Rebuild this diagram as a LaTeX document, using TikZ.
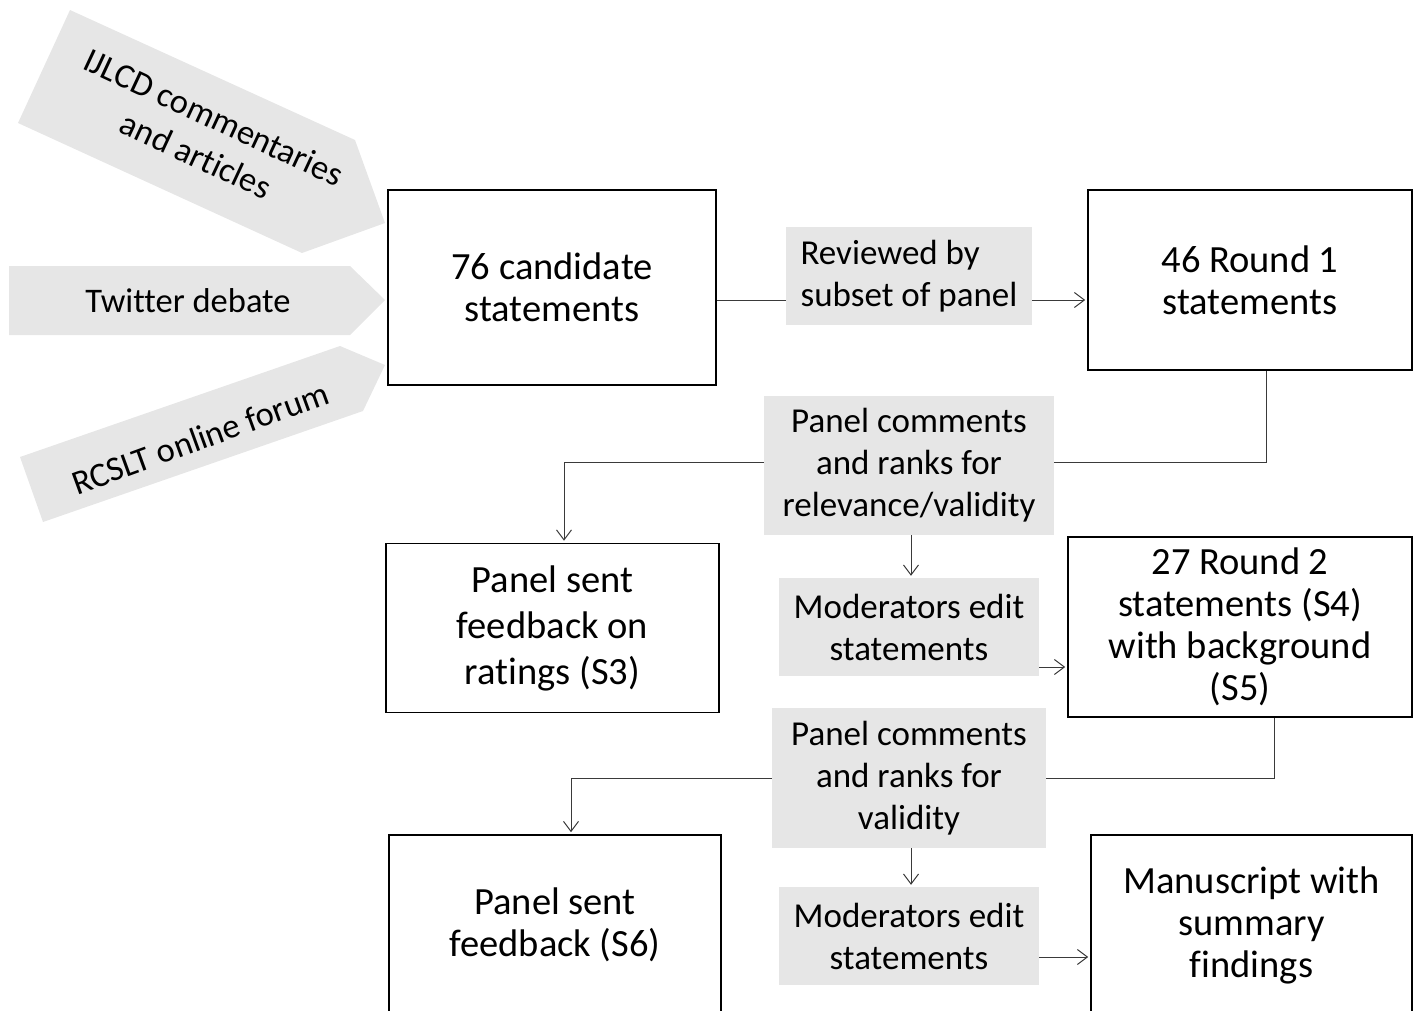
\documentclass[tikz,border=0pt]{standalone}
\usepackage{fontspec}
\setmainfont[RawFeature={-liga}]{Carlito}
\usetikzlibrary{arrows.meta,calc}
\definecolor{gfill}{HTML}{E6E6E6}
\definecolor{lcol}{HTML}{3A3A3A}
\tikzset{
  txt/.style={font=\fontsize{35}{42}\selectfont, align=center, text=black},
  srctxt/.style={font=\fontsize{34.5}{42}\selectfont, align=center, text=black},
  box/.style={font=\fontsize{38.5}{42}\selectfont, align=center, text=black, draw=black, line width=1.6pt, fill=white, inner sep=0pt},
  gbox/.style={txt, fill=gfill, inner sep=0pt},
  conn/.style={draw=lcol, line width=1pt},
  arr/.style={conn, -{Straight Barb[length=10pt,width=15pt,line width=1pt]}, shorten >=2pt},
  src/.style={fill=gfill}
}
\begin{document}
\begin{tikzpicture}[x=1pt,y=-1pt]
\useasboundingbox (0,0) rectangle (1418,1010);
\clip (0,0) rectangle (1418,1010);
% source arrows
\fill[src] (70,10) -- (355,140) -- (385,223) -- (302,253) -- (18,123) -- cycle;
\fill[src] (9,266) -- (350,266) -- (385,300) -- (350,335) -- (9,335) -- cycle;
\fill[src] (20,457) -- (340,346) -- (385,365) -- (363,411) -- (43,522) -- cycle;
\node[srctxt, rotate=-25] (ijlcd) at (205,136) {IJLCD commentaries\\and articles};
\node[srctxt] (tw) at (188,301) {Twitter debate};
\node[srctxt, rotate=20] (rcslt) at (200,438) {RCSLT online forum};
% boxes
\node[box, minimum width=328, minimum height=195] (c76) at (552,287.5) {76 candidate\\statements};
\node[gbox, minimum width=246, minimum height=98, align=left] (rev) at (909,276) {Reviewed by\\subset of panel};
\node[box, minimum width=324, minimum height=180] (r46) at (1250,280) {46 Round 1\\statements};
\node[gbox, minimum width=290, minimum height=139] (pc1) at (909,465.5) {Panel comments\\and ranks for\\relevance/validity};
\node[box, minimum width=333, minimum height=169, font=\fontsize{38.5}{46}\selectfont] (fb1) at (552.5,628) {Panel sent\\feedback on\\ratings (S3)};
\node[gbox, minimum width=260, minimum height=98] (mod1) at (909,627) {Moderators edit\\statements};
\node[box, minimum width=344, minimum height=180] (r27) at (1240,627) {27 Round 2\\statements (S4)\\with background\\(S5)};
\node[gbox, minimum width=274, minimum height=140] (pc2) at (909,778) {Panel comments\\and ranks for\\validity};
\node[box, minimum width=332, minimum height=180] (fb2) at (555,925) {Panel sent\\feedback (S6)};
\node[gbox, minimum width=260, minimum height=98] (mod2) at (909,936) {Moderators edit\\statements};
\node[box, minimum width=321, minimum height=180] (ms) at (1251.5,925) {Manuscript with\\summary\\findings};
% helper coordinates
\coordinate (k0) at (0,300);
\coordinate (k1) at (1266,462);
\coordinate (k2) at (564,462);
\coordinate (k3) at (911,0);
\coordinate (k4) at (0,667);
\coordinate (k5) at (1274,778);
\coordinate (k6) at (571,778);
\coordinate (k7) at (0,957);
% connectors
\draw[conn] (c76.east |- k0) -- (rev.west |- k0);
\draw[arr] (rev.east |- k0) -- (r46.west |- k0);
\draw[conn] (r46.south -| k1) |- (pc1.east |- k1);
\draw[arr] (pc1.west |- k2) -| (fb1.north -| k2);
\draw[arr] (pc1.south -| k3) -- (mod1.north -| k3);
\draw[arr] (mod1.east |- k4) -- (r27.west |- k4);
\draw[conn] (r27.south -| k5) |- (pc2.east |- k5);
\draw[arr] (pc2.west |- k6) -| (fb2.north -| k6);
\draw[arr] (pc2.south -| k3) -- (mod2.north -| k3);
\draw[arr] (mod2.east |- k7) -- (ms.west |- k7);
\end{tikzpicture}
\end{document}
